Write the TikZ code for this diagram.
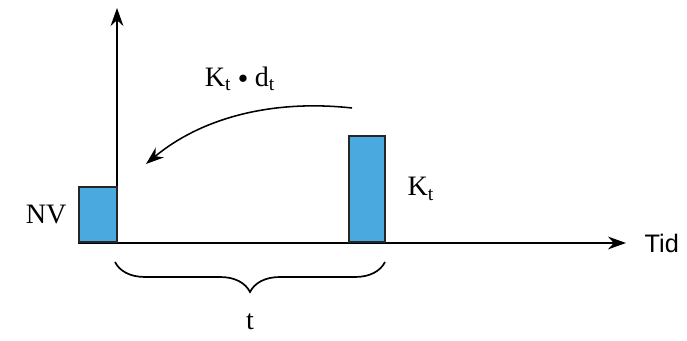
\documentclass[tikz,border=0pt]{standalone}
\usepackage{fontspec}
\setmainfont{Liberation Serif}
\newfontfamily\tidfont{Liberation Sans}
\usepackage{xcolor}
\usetikzlibrary{arrows.meta, positioning, calc, decorations.pathreplacing}
\definecolor{barblue}{RGB}{74,170,224}

\begin{document}
\begin{tikzpicture}[
   x=0.025cm, y=0.025cm,
   font=\fontsize{20}{24}\selectfont,
   >={Stealth[length=4.5mm, width=3.2mm]},
   axis/.style={line width=1.3pt},
   bar/.style={draw=black!85, line width=1.6pt, fill=barblue, anchor=south west,
               inner sep=0pt, minimum width=#1},
   lbl/.style={inner sep=1pt},
]
\useasboundingbox (0,0) rectangle (687,341);

% ---- axes ----
\coordinate (orig) at (117,98);
\coordinate (ytop) at (117,333);
\coordinate (xleft) at (78,98);
\coordinate (xend) at (626,98);
\draw[axis, ->] (orig) -- (ytop);
\draw[axis, ->] (xleft) -- (xend);
\node[lbl, font=\tidfont\fontsize{18}{22}\selectfont, anchor=west] (tid) at (643,98) {Tid};

% ---- payments ----
\node[bar=0.95cm, minimum height=1.375cm] (nv) at (78,98) {};
\node[bar=0.9cm, minimum height=2.65cm] (kt) at (348,98) {};
\node[lbl, left=7pt of nv] (nvlbl) {NV};
\node[lbl, right=14pt of kt] (ktlbl) {K$_\mathrm{t}$};

% ---- discounting ----
\coordinate (from) at (352,233);
\coordinate (to) at (146,177);
\draw[line width=1.1pt, ->] (from) .. controls (270,242) and (200,222) .. (to);
\node[lbl] (dlbl) at (240,262)
   {K$_\mathrm{t}$ \raisebox{.25ex}{\scalebox{0.65}{$\bullet$}} d$_\mathrm{t}$};

% ---- horizon ----
\coordinate (bright) at (385,79);
\coordinate (bleft) at (115,79);
\draw[line width=1.2pt, decorate, decoration={brace, amplitude=0.75cm}]
   (bright) -- (bleft);
\node[lbl] (tlbl) at (250,19) {t};
\end{tikzpicture}
\end{document}
